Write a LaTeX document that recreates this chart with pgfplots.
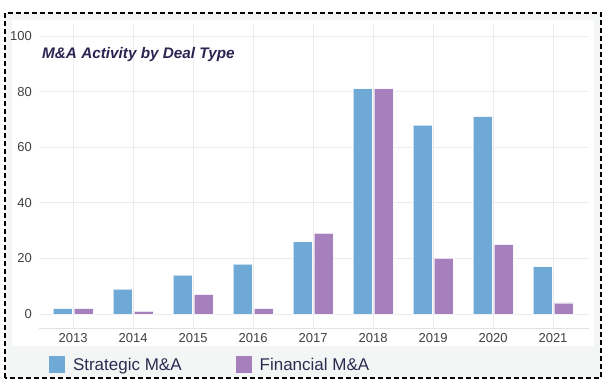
\documentclass[border=0pt]{standalone}
\usepackage{fontspec}
\setmainfont{Liberation Sans}
\usepackage{pgfplots}
\pgfplotsset{compat=1.18}
\definecolor{stratblue}{HTML}{6FAAD7}
\definecolor{finpurple}{HTML}{A67FBD}
\definecolor{gridgray}{HTML}{EBEBEB}
\definecolor{axisgray}{HTML}{E2E2E2}
\definecolor{panelgray}{HTML}{F4F6F6}
\definecolor{ticktext}{HTML}{404040}
\definecolor{navy}{HTML}{2D2452}
\definecolor{legtext}{HTML}{2E2A50}
\begin{document}
\begin{tikzpicture}
\fill[white] (0bp,0bp) rectangle (610bp,386bp);
\fill[panelgray] (5bp,8bp) rectangle (601bp,373bp);
\fill[white] (12bp,40bp) rectangle (594bp,366bp);
\draw[black, line width=1.8bp, dash pattern=on 5bp off 3bp] (5bp,8bp) rectangle (601bp,373bp);
\begin{axis}[
  at={(39bp,58bp)}, anchor=south west,
  scale only axis, width=550bp, height=305bp,
  xmin=-0.57, xmax=8.6, ymin=-5, ymax=104.7,
  axis x line*=bottom, axis y line*=left,
  x axis line style={draw=axisgray, line width=0.8bp, -},
  y axis line style={draw=none},
  xtick={0,...,8},
  xticklabels={2013,2014,2015,2016,2017,2018,2019,2020,2021},
  ytick={0,20,40,60,80,100},
  major tick length=0pt,
  xmajorgrids, ymajorgrids,
  grid style={draw=gridgray, line width=0.8bp},
  /pgf/number format/assume math mode=true,
  tick label style={font=\fontsize{13bp}{15bp}\selectfont, text=ticktext},
  xticklabel style={anchor=north, inner sep=0pt, yshift=-5.5bp},
  yticklabel style={anchor=east, inner sep=0pt, xshift=-7bp},
  ybar=2bp, bar width=19bp,
  legend columns=2,
  legend style={draw=none, fill=none, inner sep=0pt, outer sep=0pt,
    at={(0.0182,-0.1205)}, anchor=west,
    font=\fontsize{17bp}{20bp}\selectfont, text=legtext,
    cells={anchor=base west},
    nodes={inner sep=0pt},
    /tikz/every odd column/.style={column sep=8bp},
    /tikz/every even column/.style={column sep=54bp}},
  legend image code/.code={\fill[#1, draw=none] (0bp,-2.9bp) rectangle (16bp,14.1bp);},
]
\addplot[fill=stratblue, draw=white, draw opacity=0.6, line width=0.8bp]
  coordinates {(0,2) (1,9) (2,14) (3,18) (4,26) (5,81) (6,68) (7,71) (8,17)};
\addplot[fill=finpurple, draw=white, draw opacity=0.6, line width=0.8bp]
  coordinates {(0,2) (1,1) (2,7) (3,2) (4,29) (5,81) (6,20) (7,25) (8,4)};
\legend{Strategic M\&A, Financial M\&A}
\node[anchor=base west, inner sep=0pt, text=navy,
  font=\fontsize{15.3bp}{18bp}\selectfont\bfseries\itshape]
  at (axis cs:-0.52,91.9) {M\&A Activity by Deal Type};
\end{axis}
\end{tikzpicture}
\end{document}
